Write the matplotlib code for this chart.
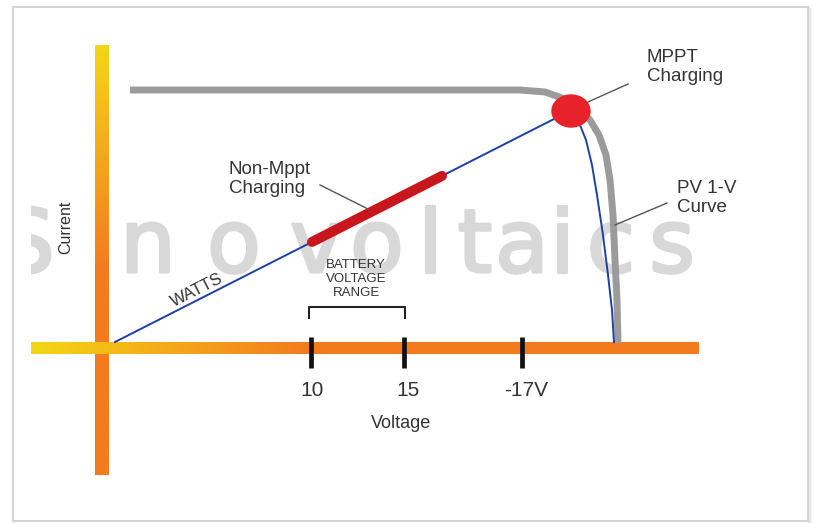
import numpy as np
import matplotlib
matplotlib.use("Agg")
import matplotlib.pyplot as plt
import matplotlib.patheffects as pe
from matplotlib.colors import LinearSegmentedColormap
from matplotlib.patches import Ellipse, Rectangle
from matplotlib.transforms import Bbox, TransformedBbox

plt.rcParams['font.family'] = ['Liberation Sans', 'DejaVu Sans']

# ---- schematic coordinates (canvas units, y grows downward) ----
# PV I-V curve (gray)
pv_x = [130, 520, 545, 562, 578, 590, 599, 606, 610, 613, 615, 617, 618]
pv_y = [90, 90, 92, 98, 108, 120, 135, 155, 180, 215, 260, 300, 343]

# load line (watts) from origin to the MPPT point
watts_x = [115, 556]
watts_y = [342, 118]

# blue drop from MPPT point down to the voltage axis
drop_x = [578, 586, 592, 597, 603, 608, 612, 614]
drop_y = [120, 140, 165, 195, 235, 275, 310, 342]

# non-MPPT charging segment (on the load line)
nonmppt_x = [312, 442]

mppt_point = (571, 111)

# voltage ticks
tick_x = [311, 404, 522]
tick_labels = ['10', '15', '-17V']
tick_label_x = [312, 408, 526]

# battery voltage range bracket
batt_range = [309, 405]

# watermark letters and their centres
wm_letters = ['S', 'i', 'n', 'o', 'v', 'o', 'l', 't', 'a', 'i', 'c', 's']
wm_x = [27, 101, 148, 234, 316, 377, 430, 475, 522, 562, 611, 672]

YELLOW = '#f3d616'
ORANGE = '#f47a1e'
TXT = '#333333'
WM = '#d8d8d8'

fig = plt.figure(figsize=(8.15, 5.23), dpi=100)
ax = fig.add_axes([0, 0, 1, 1])
ax.set_xlim(0, 815)
ax.set_ylim(523, 0)
ax.axis('off')

# frame of the picture
ax.add_patch(Rectangle((13, 7), 795, 514, fill=False, ec='#d4d4d4', lw=1.5, zorder=1))
ax.plot([809, 809], [9, 522], color='#e6e6e6', lw=2.5, zorder=0)

# watermark (left letter cut off at the picture edge)
clip = TransformedBbox(Bbox([[31, 0], [815, 523]]), ax.transData)
for ch, xc in zip(wm_letters, wm_x):
    t = ax.text(xc, 272, ch, fontsize=63, family='DejaVu Sans', color=WM,
                ha='center', va='baseline', zorder=1.5,
                path_effects=[pe.withStroke(linewidth=2.2, foreground=WM)])
    t.set_clip_box(clip)
    t.set_clip_on(True)

# gradient bars
cmap_h = LinearSegmentedColormap.from_list('h', [(0, YELLOW), (0.42, ORANGE), (1, ORANGE)])
cmap_v = LinearSegmentedColormap.from_list('v', [(0, YELLOW), (0.52, ORANGE), (1, ORANGE)])
grad = np.linspace(0, 1, 256)
ax.imshow(grad[:, None], cmap=cmap_v, extent=(95, 109, 475, 45), aspect='auto', zorder=2)
ax.imshow(grad[None, :], cmap=cmap_h, extent=(31, 699, 354, 342), aspect='auto', zorder=3)

# PV curve
ax.plot(pv_x, pv_y, color='#9b9b9b', lw=5, solid_capstyle='butt',
        solid_joinstyle='round', zorder=5)

# load line and drop
ax.plot(watts_x, watts_y, color='#1f3fa8', lw=1.4, zorder=6)
ax.plot(drop_x, drop_y, color='#1f3fa8', lw=1.4, zorder=6)

# non-MPPT segment
slope = (watts_y[1] - watts_y[0]) / (watts_x[1] - watts_x[0])
nonmppt_y = [watts_y[0] + slope * (x - watts_x[0]) for x in nonmppt_x]
ax.plot(nonmppt_x, nonmppt_y, color='#c8161d', lw=7.2, solid_capstyle='round', zorder=7)

# MPPT point
ax.add_patch(Ellipse(mppt_point, 38, 32, color='#e8222a', zorder=8))

# ticks on voltage axis
for x in tick_x:
    ax.plot([x, x], [337, 368], color='#111111', lw=3.4, solid_capstyle='butt', zorder=8)
for x, lab in zip(tick_label_x, tick_labels):
    ax.text(x, 390, lab, fontsize=15, color=TXT, ha='center', va='center', zorder=9)

# battery bracket
ax.plot([batt_range[0], batt_range[0], batt_range[1], batt_range[1]],
        [318, 307, 307, 318], color='#222222', lw=1.5, zorder=8)
ax.text(356, 279, 'BATTERY\nVOLTAGE\nRANGE', fontsize=9.5, color=TXT, ha='center',
        va='center', linespacing=1.2, zorder=9)

# leader lines
lead = '#555555'
ax.plot([588, 628], [102, 84], color=lead, lw=1.0, zorder=9)
ax.plot([320, 368], [185, 209], color=lead, lw=1.0, zorder=9)
ax.plot([667, 615], [203, 225], color=lead, lw=1.0, zorder=9)

# labels
ax.text(647, 49, 'MPPT\nCharging', fontsize=13.5, color=TXT, ha='left', va='top',
        linespacing=1.15, zorder=9)
ax.text(229, 161, 'Non-Mppt\nCharging', fontsize=13.5, color=TXT, ha='left', va='top',
        linespacing=1.15, zorder=9)
ax.text(677, 180, 'PV 1-V\nCurve', fontsize=13.5, color=TXT, ha='left', va='top',
        linespacing=1.15, zorder=9)
ax.text(401, 423, 'Voltage', fontsize=13, color=TXT, ha='center', va='center', zorder=9)
ax.text(66, 227, 'Current', fontsize=11.5, color=TXT, rotation=90, ha='center',
        va='center', zorder=9)
ang = np.degrees(np.arctan(-slope))
ax.text(197, 290, 'WATTS', fontsize=12, color=TXT, rotation=ang, ha='center',
        va='center', rotation_mode='anchor', zorder=9)

fig.savefig('out.png', dpi=100)
